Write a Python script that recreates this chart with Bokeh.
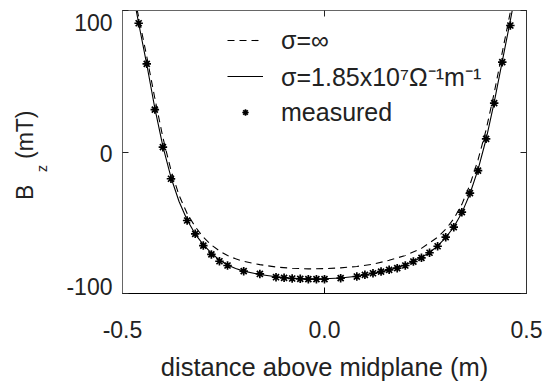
import numpy as np
from bokeh.plotting import figure
from bokeh.models import (Range1d, LinearAxis, FixedTicker, Legend, LegendItem,
                          CustomJSTickFormatter)
from bokeh.embed import file_html
from bokeh.resources import INLINE

# ---------------- data ----------------
x_meas = [-0.46, -0.44, -0.42, -0.40, -0.38, -0.34, -0.32, -0.30, -0.28, -0.26,
          -0.24, -0.20, -0.16, -0.12, -0.10, -0.08, -0.06, -0.04, -0.02, 0.00,
          0.04, 0.08, 0.10, 0.12, 0.14, 0.16, 0.18, 0.20, 0.22, 0.24,
          0.26, 0.28, 0.30, 0.32, 0.34, 0.36, 0.38, 0.40, 0.42, 0.44, 0.46]
y_meas = [91.0, 62.3, 30.0, 3.4, -18.9, -48.4, -57.8, -66.1, -72.4, -77.2,
          -80.2, -84.2, -86.2, -88.5, -88.9, -89.4, -89.6, -89.9, -89.9, -89.9,
          -89.2, -88.0, -86.8, -85.7, -84.5, -83.3, -82.1, -80.2, -77.4, -74.8,
          -71.2, -66.6, -60.2, -53.1, -42.5, -29.1, -13.1, 9.3, 34.5, 63.5, 89.4]

# sigma = infinity (dashed)
x_inf = [-0.47, -0.46, -0.44, -0.42, -0.40, -0.38, -0.36, -0.34, -0.32, -0.30,
         -0.28, -0.26, -0.24, -0.22, -0.20, -0.16, -0.12, -0.08, -0.04, 0.00,
         0.04, 0.08, 0.12, 0.16, 0.20, 0.24, 0.28, 0.30, 0.32, 0.34,
         0.36, 0.38, 0.40, 0.42, 0.44, 0.46, 0.47]
y_inf = [109.0, 95.4, 67.6, 38.0, 10.2, -13.0, -30.6, -43.5, -52.8, -60.2,
         -65.7, -69.9, -73.2, -75.5, -77.3, -79.6, -81.3, -82.2, -82.6, -82.4,
         -81.9, -80.9, -79.3, -76.5, -73.2, -68.1, -60.2, -54.6, -47.2, -37.0,
         -23.2, -5.6, 15.7, 41.7, 70.4, 99.0, 114.0]

# sigma = 1.85e7 (solid)
x_fin = [-0.47, -0.46, -0.44, -0.42, -0.40, -0.38, -0.36, -0.34, -0.32, -0.30,
         -0.28, -0.26, -0.24, -0.22, -0.20, -0.16, -0.12, -0.08, -0.04, 0.00,
         0.04, 0.08, 0.12, 0.16, 0.20, 0.24, 0.26, 0.28, 0.30, 0.32,
         0.34, 0.36, 0.38, 0.40, 0.42, 0.44, 0.46, 0.47]
y_fin = [106.0, 91.0, 62.0, 31.0, 4.0, -18.0, -35.0, -48.0, -58.0, -65.5,
         -71.5, -76.3, -79.8, -82.4, -84.2, -86.6, -88.2, -89.2, -89.7, -89.6,
         -89.0, -87.8, -85.9, -83.3, -79.8, -74.6, -71.0, -66.4, -60.5, -53.0,
         -43.0, -29.5, -12.5, 9.0, 35.0, 64.0, 93.0, 108.0]

x_ticks = [-0.5, 0.0, 0.5]
x_tick_labels = ["-0.5", "0.0", "0.5"]
y_ticks = [-100, 0, 100]
y_tick_labels = ["-100", "0", "100"]

legend_labels = ["\u03c3=\u221e", "\u03c3=1.85x10\u2077\u03a9\u207b\u00b9m\u207b\u00b9", "measured"]
x_label = "distance above midplane (m)"
y_label_main = "B\u00a0\u00a0\u00a0\u00a0(mT)\u00a0"
y_label_sub = "z"

FONT = "Liberation Sans"
TXT = "#222222"

# ---------------- figure ----------------
W, H = 553, 383
BL, BR, BT, BB = 122, 27, 10, 90
p = figure(width=W, height=H, output_backend="svg", toolbar_location=None,
           x_range=Range1d(-0.5, 0.5), y_range=Range1d(-100, 100),
           min_border_left=BL, min_border_right=BR, min_border_top=BT,
           min_border_bottom=BB)
p.xgrid.visible = False
p.ygrid.visible = False
p.outline_line_color = "#555555"

r_inf = p.line(x_inf, y_inf, line_color="black", line_width=1.1, line_dash="7 5")
r_fin = p.line(x_fin, y_fin, line_color="black", line_width=1.1)
r_meas = p.scatter(x_meas, y_meas, marker="asterisk", size=8.5, line_color="black",
                   line_width=1.7)

# bottom axis
xa = p.xaxis[0]
xa.ticker = FixedTicker(ticks=x_ticks)
xa.formatter = CustomJSTickFormatter(args=dict(labels=x_tick_labels),
                                     code="return labels[index]")
xa.major_tick_in = 6
xa.major_tick_out = 0
xa.minor_tick_line_color = None
xa.axis_line_color = "black"
xa.major_tick_line_color = "black"
xa.major_label_text_font = FONT
xa.major_label_text_font_size = "23px"
xa.major_label_text_color = TXT
xa.major_label_standoff = 27
xa.axis_label = x_label
xa.axis_label_text_font = FONT
xa.axis_label_text_font_size = "25.5px"
xa.axis_label_text_font_style = "normal"
xa.axis_label_text_color = TXT
xa.axis_label_standoff = 12

# left axis: tick marks at y_ticks, labels kept inside the frame height
px_per_unit = (H - BT - BB) / 200.0
nudge_px = {100: -12, 0: -1, -100: 7}
label_pos = [t + nudge_px[t] / px_per_unit for t in y_ticks]
ya = p.yaxis[0]
ya.ticker = FixedTicker(ticks=label_pos, minor_ticks=y_ticks)
ya.formatter = CustomJSTickFormatter(args=dict(labels=y_tick_labels),
                                     code="return labels[index]")
ya.major_tick_line_color = None
ya.major_tick_in = 0
ya.major_tick_out = 0
ya.minor_tick_in = 6
ya.minor_tick_out = 0
ya.minor_tick_line_color = "#222222"
ya.axis_line_color = "#666666"
ya.major_label_text_font = FONT
ya.major_label_text_font_size = "23px"
ya.major_label_text_color = TXT
ya.major_label_standoff = 10

# outer left axis: carries the y label  B_z (mT)
z_pos = -(168 - (BT + (H - BT - BB) / 2)) / px_per_unit
yb = LinearAxis(ticker=FixedTicker(ticks=[z_pos]),
                formatter=CustomJSTickFormatter(args=dict(s=y_label_sub), code="return s"),
                axis_line_color=None, major_tick_line_color=None,
                minor_tick_line_color=None, major_tick_in=0, major_tick_out=0,
                major_label_orientation="vertical", major_label_text_font=FONT,
                major_label_text_font_size="14px", major_label_text_color=TXT,
                major_label_standoff=14,
                axis_label=y_label_main, axis_label_text_font=FONT,
                axis_label_text_font_size="23px", axis_label_text_font_style="normal",
                axis_label_text_color=TXT, axis_label_standoff=-7)
p.add_layout(yb, "left")

# top and right axes (tick marks only)
top = LinearAxis(ticker=FixedTicker(ticks=[], minor_ticks=x_ticks),
                 minor_tick_in=6, minor_tick_out=0, minor_tick_line_color="#222222",
                 major_tick_line_color=None, axis_line_color="#666666")
right = LinearAxis(ticker=FixedTicker(ticks=[], minor_ticks=y_ticks),
                   minor_tick_in=6, minor_tick_out=0, minor_tick_line_color="#222222",
                   major_tick_line_color=None, axis_line_color="#333333")
p.add_layout(top, "above")
p.add_layout(right, "right")

# legend
legend = Legend(items=[LegendItem(label=legend_labels[0], renderers=[r_inf]),
                       LegendItem(label=legend_labels[1], renderers=[r_fin]),
                       LegendItem(label=legend_labels[2], renderers=[r_meas])],
                location=(105, 163), border_line_color=None, background_fill_alpha=0,
                padding=0, margin=0, spacing=0, glyph_width=36, glyph_height=16,
                label_height=36, label_standoff=18, label_text_font=FONT,
                label_text_font_size="25px", label_text_color=TXT)
p.add_layout(legend)

open("out.html", "w").write(file_html(p, INLINE))
